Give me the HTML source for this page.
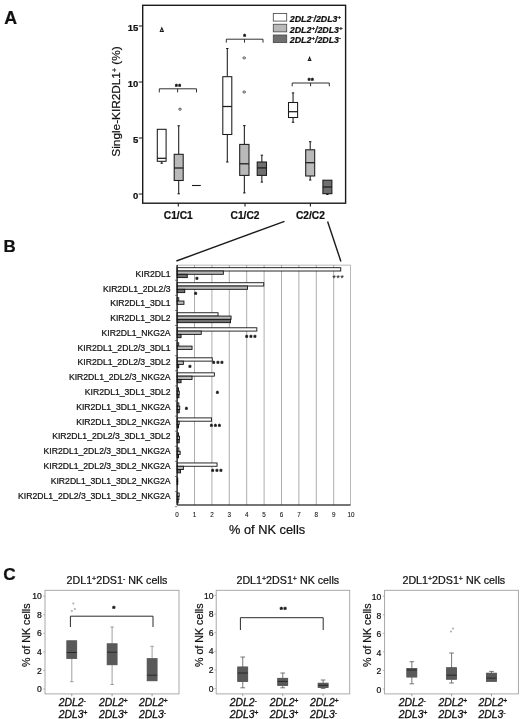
<!DOCTYPE html>
<html><head><meta charset="utf-8"><title>Figure</title>
<style>
html,body{margin:0;padding:0;background:#fff;}
svg{display:block;}
text{font-family:"Liberation Sans", sans-serif;fill:#111;stroke:#111;stroke-width:0.22px;}
.b{font-weight:bold;}
.i{font-style:italic;}
</style></head><body>
<svg width="520" height="719" viewBox="0 0 520 719">
<rect x="0" y="0" width="520" height="719" fill="#fff"/>

<text class="b" x="4.2" y="24.2" font-size="17.8">A</text>
<text class="b" x="3.5" y="251.6" font-size="16.9">B</text>
<text class="b" x="3.2" y="579.6" font-size="17.2">C</text>
<rect x="142.7" y="5.3" width="202.9" height="197.9" fill="none" stroke="#1a1a1a" stroke-width="1.4"/>
<line x1="138.8" y1="194.0" x2="142.7" y2="194.0" stroke="#1a1a1a" stroke-width="1"/>
<text class="b" x="138.4" y="199.3" font-size="9.5" text-anchor="end">0</text>
<line x1="138.8" y1="138.0" x2="142.7" y2="138.0" stroke="#1a1a1a" stroke-width="1"/>
<text class="b" x="138.4" y="143.3" font-size="9.5" text-anchor="end">5</text>
<line x1="138.8" y1="82.0" x2="142.7" y2="82.0" stroke="#1a1a1a" stroke-width="1"/>
<text class="b" x="138.4" y="87.3" font-size="9.5" text-anchor="end">10</text>
<line x1="138.8" y1="26.0" x2="142.7" y2="26.0" stroke="#1a1a1a" stroke-width="1"/>
<text class="b" x="138.4" y="31.3" font-size="9.5" text-anchor="end">15</text>
<line x1="178.3" y1="203.2" x2="178.3" y2="206.6" stroke="#1a1a1a" stroke-width="1.1"/>
<text class="b" x="178.3" y="219.1" font-size="10.2" text-anchor="middle">C1/C1</text>
<line x1="245" y1="203.2" x2="245" y2="206.6" stroke="#1a1a1a" stroke-width="1.1"/>
<text class="b" x="245" y="219.1" font-size="10.2" text-anchor="middle">C1/C2</text>
<line x1="310.4" y1="203.2" x2="310.4" y2="206.6" stroke="#1a1a1a" stroke-width="1.1"/>
<text class="b" x="310.4" y="219.1" font-size="10.2" text-anchor="middle">C2/C2</text>
<text transform="translate(120.2,101.5) rotate(-90)" font-size="11.8" text-anchor="middle">Single-KIR2DL1<tspan font-size="7" dy="-3.5">+</tspan><tspan dy="3.5"> (%)</tspan></text>
<line x1="161.7" y1="161.3" x2="161.7" y2="163.2" stroke="#1a1a1a" stroke-width="1.05"/>
<line x1="160.5" y1="163.2" x2="162.9" y2="163.2" stroke="#1a1a1a" stroke-width="1.05"/>
<rect x="157.3" y="129.3" width="8.8" height="32.0" fill="#fff" stroke="#1a1a1a" stroke-width="1.05"/>
<line x1="157.3" y1="158.3" x2="166.1" y2="158.3" stroke="#1a1a1a" stroke-width="1.25"/>
<line x1="178.7" y1="125.8" x2="178.7" y2="154.3" stroke="#1a1a1a" stroke-width="1.05"/>
<line x1="177.5" y1="125.8" x2="179.9" y2="125.8" stroke="#1a1a1a" stroke-width="1.05"/>
<line x1="178.7" y1="180.5" x2="178.7" y2="193.8" stroke="#1a1a1a" stroke-width="1.05"/>
<line x1="177.5" y1="193.8" x2="179.9" y2="193.8" stroke="#1a1a1a" stroke-width="1.05"/>
<rect x="174.2" y="154.3" width="9.0" height="26.2" fill="#b9b9b9" stroke="#1a1a1a" stroke-width="1.05"/>
<line x1="174.2" y1="168.0" x2="183.2" y2="168.0" stroke="#1a1a1a" stroke-width="1.25"/>
<line x1="192" y1="185.5" x2="200.8" y2="185.5" stroke="#1a1a1a" stroke-width="1.1"/>
<line x1="227.3" y1="48.5" x2="227.3" y2="76.7" stroke="#1a1a1a" stroke-width="1.05"/>
<line x1="226.1" y1="48.5" x2="228.5" y2="48.5" stroke="#1a1a1a" stroke-width="1.05"/>
<line x1="227.3" y1="134.5" x2="227.3" y2="162" stroke="#1a1a1a" stroke-width="1.05"/>
<line x1="226.1" y1="162" x2="228.5" y2="162" stroke="#1a1a1a" stroke-width="1.05"/>
<rect x="222.8" y="76.7" width="9.0" height="57.8" fill="#fff" stroke="#1a1a1a" stroke-width="1.05"/>
<line x1="222.8" y1="106.5" x2="231.8" y2="106.5" stroke="#1a1a1a" stroke-width="1.25"/>
<line x1="244.35" y1="125.6" x2="244.35" y2="144.4" stroke="#1a1a1a" stroke-width="1.05"/>
<line x1="243.15" y1="125.6" x2="245.55" y2="125.6" stroke="#1a1a1a" stroke-width="1.05"/>
<line x1="244.35" y1="175.4" x2="244.35" y2="192.9" stroke="#1a1a1a" stroke-width="1.05"/>
<line x1="243.15" y1="192.9" x2="245.55" y2="192.9" stroke="#1a1a1a" stroke-width="1.05"/>
<rect x="239.7" y="144.4" width="9.3" height="31.0" fill="#b9b9b9" stroke="#1a1a1a" stroke-width="1.05"/>
<line x1="239.7" y1="163.8" x2="249" y2="163.8" stroke="#1a1a1a" stroke-width="1.25"/>
<line x1="261.85" y1="155.2" x2="261.85" y2="162" stroke="#1a1a1a" stroke-width="1.05"/>
<line x1="260.65" y1="155.2" x2="263.05" y2="155.2" stroke="#1a1a1a" stroke-width="1.05"/>
<line x1="261.85" y1="175.4" x2="261.85" y2="182.1" stroke="#1a1a1a" stroke-width="1.05"/>
<line x1="260.65" y1="182.1" x2="263.05" y2="182.1" stroke="#1a1a1a" stroke-width="1.05"/>
<rect x="257.2" y="162" width="9.3" height="13.4" fill="#6f6f6f" stroke="#1a1a1a" stroke-width="1.05"/>
<line x1="257.2" y1="167.9" x2="266.5" y2="167.9" stroke="#1a1a1a" stroke-width="1.25"/>
<line x1="293.05" y1="92.9" x2="293.05" y2="102.5" stroke="#1a1a1a" stroke-width="1.05"/>
<line x1="291.85" y1="92.9" x2="294.25" y2="92.9" stroke="#1a1a1a" stroke-width="1.05"/>
<line x1="293.05" y1="117.5" x2="293.05" y2="122.3" stroke="#1a1a1a" stroke-width="1.05"/>
<line x1="291.85" y1="122.3" x2="294.25" y2="122.3" stroke="#1a1a1a" stroke-width="1.05"/>
<rect x="288.5" y="102.5" width="9.1" height="15.0" fill="#fff" stroke="#1a1a1a" stroke-width="1.05"/>
<line x1="288.5" y1="111.7" x2="297.6" y2="111.7" stroke="#1a1a1a" stroke-width="1.25"/>
<line x1="310.2" y1="141.7" x2="310.2" y2="149.8" stroke="#1a1a1a" stroke-width="1.05"/>
<line x1="309.0" y1="141.7" x2="311.4" y2="141.7" stroke="#1a1a1a" stroke-width="1.05"/>
<line x1="310.2" y1="176" x2="310.2" y2="180" stroke="#1a1a1a" stroke-width="1.05"/>
<line x1="309.0" y1="180" x2="311.4" y2="180" stroke="#1a1a1a" stroke-width="1.05"/>
<rect x="305.7" y="149.8" width="9.0" height="26.2" fill="#b9b9b9" stroke="#1a1a1a" stroke-width="1.05"/>
<line x1="305.7" y1="162.7" x2="314.7" y2="162.7" stroke="#1a1a1a" stroke-width="1.25"/>
<line x1="327.4" y1="193.7" x2="327.4" y2="194.4" stroke="#1a1a1a" stroke-width="1.05"/>
<line x1="326.2" y1="194.4" x2="328.6" y2="194.4" stroke="#1a1a1a" stroke-width="1.05"/>
<rect x="322.9" y="180.2" width="9.0" height="13.5" fill="#6f6f6f" stroke="#1a1a1a" stroke-width="1.05"/>
<line x1="322.9" y1="187" x2="331.9" y2="187" stroke="#1a1a1a" stroke-width="1.25"/>
<ellipse cx="180" cy="109.2" rx="1.3" ry="1.05" fill="#fff" stroke="#222" stroke-width="0.75"/>
<ellipse cx="244.2" cy="57.9" rx="1.3" ry="1.05" fill="#fff" stroke="#222" stroke-width="0.75"/>
<ellipse cx="244.2" cy="92" rx="1.3" ry="1.05" fill="#fff" stroke="#222" stroke-width="0.75"/>
<path d="M160.3,31.5 L163.3,31.5 L161.8,27.9 Z" fill="#fff" stroke="#1a1a1a" stroke-width="1.1"/>
<path d="M308.35,60.55 L310.85,60.55 L309.6,57.45 Z" fill="#fff" stroke="#1a1a1a" stroke-width="1.1"/>
<path d="M159.3,92.4 V88.8 H196.5 V92.4" fill="none" stroke="#1a1a1a" stroke-width="0.9"/>
<line x1="177.6" y1="88.8" x2="177.6" y2="92.4" stroke="#1a1a1a" stroke-width="0.9"/>
<path d="M226.3,42.6 V39.2 H263 V42.6" fill="none" stroke="#1a1a1a" stroke-width="0.9"/>
<line x1="244.5" y1="39.2" x2="244.5" y2="42.6" stroke="#1a1a1a" stroke-width="0.9"/>
<path d="M292.2,86.3 V83 H329.3 V86.3" fill="none" stroke="#1a1a1a" stroke-width="0.9"/>
<line x1="310.6" y1="83" x2="310.6" y2="86.3" stroke="#1a1a1a" stroke-width="0.9"/>
<text class="b" x="178.3" y="89.1" font-size="7" text-anchor="middle" fill="#111" style="stroke:#111;stroke-width:0.45px" letter-spacing="0.6">**</text>
<text class="b" x="244.9" y="38.9" font-size="7" text-anchor="middle" fill="#111" style="stroke:#111;stroke-width:0.45px" letter-spacing="0.6">*</text>
<text class="b" x="311.0" y="82.7" font-size="7" text-anchor="middle" fill="#111" style="stroke:#111;stroke-width:0.45px" letter-spacing="0.6">**</text>
<rect x="273.3" y="13.5" width="13.4" height="7.6" fill="#fff" stroke="#4a4a4a" stroke-width="0.85"/>
<text class="b i" x="289.8" y="21.8" font-size="8.85">2DL2<tspan font-size="6" dy="-3">-</tspan><tspan dy="3">/2DL3</tspan><tspan font-size="6" dy="-3">+</tspan></text>
<rect x="273.3" y="24.25" width="13.4" height="7.6" fill="#b9b9b9" stroke="#4a4a4a" stroke-width="0.85"/>
<text class="b i" x="289.8" y="32.55" font-size="8.85">2DL2<tspan font-size="6" dy="-3">+</tspan><tspan dy="3">/2DL3</tspan><tspan font-size="6" dy="-3">+</tspan></text>
<rect x="273.3" y="35.0" width="13.4" height="7.6" fill="#6f6f6f" stroke="#4a4a4a" stroke-width="0.85"/>
<text class="b i" x="289.8" y="43.3" font-size="8.85">2DL2<tspan font-size="6" dy="-3">+</tspan><tspan dy="3">/2DL3</tspan><tspan font-size="6" dy="-3">-</tspan></text>
<line x1="284.5" y1="221.3" x2="176.4" y2="261" stroke="#1a1a1a" stroke-width="1.4"/>
<line x1="327.6" y1="221.5" x2="340.9" y2="261.5" stroke="#1a1a1a" stroke-width="1.4"/>
<rect x="177.1" y="265.1" width="173.4" height="239.9" fill="none" stroke="#9a9a9a" stroke-width="0.7"/>
<line x1="194.5" y1="265.1" x2="194.5" y2="505.0" stroke="#8a8a8a" stroke-width="0.7"/>
<line x1="211.9" y1="265.1" x2="211.9" y2="505.0" stroke="#8a8a8a" stroke-width="0.7"/>
<line x1="229.3" y1="265.1" x2="229.3" y2="505.0" stroke="#8a8a8a" stroke-width="0.7"/>
<line x1="246.7" y1="265.1" x2="246.7" y2="505.0" stroke="#8a8a8a" stroke-width="0.7"/>
<line x1="264.1" y1="265.1" x2="264.1" y2="505.0" stroke="#8a8a8a" stroke-width="0.7"/>
<line x1="281.5" y1="265.1" x2="281.5" y2="505.0" stroke="#8a8a8a" stroke-width="0.7"/>
<line x1="298.9" y1="265.1" x2="298.9" y2="505.0" stroke="#8a8a8a" stroke-width="0.7"/>
<line x1="316.3" y1="265.1" x2="316.3" y2="505.0" stroke="#8a8a8a" stroke-width="0.7"/>
<line x1="333.7" y1="265.1" x2="333.7" y2="505.0" stroke="#8a8a8a" stroke-width="0.7"/>
<text x="170.6" y="276.80" font-size="8.65" text-anchor="end">KIR2DL1</text>
<line x1="174.9" y1="280.2" x2="177.1" y2="280.2" stroke="#333" stroke-width="0.6"/>
<rect x="177.1" y="267.70" width="163.65" height="3.3" fill="#fff" stroke="#111" stroke-width="0.9"/>
<rect x="177.1" y="271.00" width="46.25" height="3.3" fill="#b9b9b9" stroke="#111" stroke-width="0.9"/>
<rect x="177.1" y="274.30" width="10.15" height="3.3" fill="#6f6f6f" stroke="#111" stroke-width="0.9"/>
<text x="170.6" y="291.58" font-size="8.65" text-anchor="end">KIR2DL1_2DL2/3</text>
<line x1="174.9" y1="295.3" x2="177.1" y2="295.3" stroke="#333" stroke-width="0.6"/>
<rect x="177.1" y="282.72" width="86.65" height="3.3" fill="#fff" stroke="#111" stroke-width="0.9"/>
<rect x="177.1" y="286.02" width="70.35" height="3.3" fill="#b9b9b9" stroke="#111" stroke-width="0.9"/>
<rect x="177.1" y="289.32" width="7.65" height="3.3" fill="#6f6f6f" stroke="#111" stroke-width="0.9"/>
<text x="170.6" y="306.36" font-size="8.65" text-anchor="end">KIR2DL1_3DL1</text>
<line x1="174.9" y1="310.4" x2="177.1" y2="310.4" stroke="#333" stroke-width="0.6"/>
<rect x="177.1" y="297.74" width="1.65" height="3.3" fill="#fff" stroke="#111" stroke-width="0.9"/>
<rect x="177.1" y="301.04" width="6.85" height="3.3" fill="#b9b9b9" stroke="#111" stroke-width="0.9"/>
<text x="170.6" y="321.14" font-size="8.65" text-anchor="end">KIR2DL1_3DL2</text>
<line x1="174.9" y1="325.5" x2="177.1" y2="325.5" stroke="#333" stroke-width="0.6"/>
<rect x="177.1" y="312.76" width="40.95" height="3.3" fill="#fff" stroke="#111" stroke-width="0.9"/>
<rect x="177.1" y="316.06" width="53.95" height="3.3" fill="#b9b9b9" stroke="#111" stroke-width="0.9"/>
<rect x="177.1" y="319.36" width="53.45" height="3.3" fill="#6f6f6f" stroke="#111" stroke-width="0.9"/>
<text x="170.6" y="335.92" font-size="8.65" text-anchor="end">KIR2DL1_NKG2A</text>
<line x1="174.9" y1="340.6" x2="177.1" y2="340.6" stroke="#333" stroke-width="0.6"/>
<rect x="177.1" y="327.78" width="79.75" height="3.3" fill="#fff" stroke="#111" stroke-width="0.9"/>
<rect x="177.1" y="331.08" width="24.15" height="3.3" fill="#b9b9b9" stroke="#111" stroke-width="0.9"/>
<rect x="177.1" y="334.38" width="3.95" height="3.3" fill="#6f6f6f" stroke="#111" stroke-width="0.9"/>
<text x="170.6" y="350.70" font-size="8.65" text-anchor="end">KIR2DL1_2DL2/3_3DL1</text>
<line x1="174.9" y1="355.7" x2="177.1" y2="355.7" stroke="#333" stroke-width="0.6"/>
<rect x="177.1" y="342.80" width="1.65" height="3.3" fill="#fff" stroke="#111" stroke-width="0.9"/>
<rect x="177.1" y="346.10" width="14.95" height="3.3" fill="#b9b9b9" stroke="#111" stroke-width="0.9"/>
<text x="170.6" y="365.48" font-size="8.65" text-anchor="end">KIR2DL1_2DL2/3_3DL2</text>
<line x1="174.9" y1="370.8" x2="177.1" y2="370.8" stroke="#333" stroke-width="0.6"/>
<rect x="177.1" y="357.82" width="35.15" height="3.3" fill="#fff" stroke="#111" stroke-width="0.9"/>
<rect x="177.1" y="361.12" width="6.25" height="3.3" fill="#b9b9b9" stroke="#111" stroke-width="0.9"/>
<rect x="177.1" y="364.42" width="1.65" height="3.3" fill="#6f6f6f" stroke="#111" stroke-width="0.9"/>
<text x="170.6" y="380.26" font-size="8.65" text-anchor="end">KIR2DL1_2DL2/3_NKG2A</text>
<line x1="174.9" y1="385.9" x2="177.1" y2="385.9" stroke="#333" stroke-width="0.6"/>
<rect x="177.1" y="372.84" width="37.25" height="3.3" fill="#fff" stroke="#111" stroke-width="0.9"/>
<rect x="177.1" y="376.14" width="14.95" height="3.3" fill="#b9b9b9" stroke="#111" stroke-width="0.9"/>
<rect x="177.1" y="379.44" width="3.95" height="3.3" fill="#6f6f6f" stroke="#111" stroke-width="0.9"/>
<text x="170.6" y="395.04" font-size="8.65" text-anchor="end">KIR2DL1_3DL1_3DL2</text>
<line x1="174.9" y1="401.0" x2="177.1" y2="401.0" stroke="#333" stroke-width="0.6"/>
<rect x="177.1" y="387.86" width="1.45" height="3.3" fill="#fff" stroke="#111" stroke-width="0.9"/>
<rect x="177.1" y="391.16" width="2.15" height="3.3" fill="#b9b9b9" stroke="#111" stroke-width="0.9"/>
<rect x="177.1" y="394.46" width="1.85" height="3.3" fill="#6f6f6f" stroke="#111" stroke-width="0.9"/>
<text x="170.6" y="409.82" font-size="8.65" text-anchor="end">KIR2DL1_3DL1_NKG2A</text>
<line x1="174.9" y1="416.1" x2="177.1" y2="416.1" stroke="#333" stroke-width="0.6"/>
<rect x="177.1" y="402.88" width="1.75" height="3.3" fill="#fff" stroke="#111" stroke-width="0.9"/>
<rect x="177.1" y="406.18" width="2.65" height="3.3" fill="#b9b9b9" stroke="#111" stroke-width="0.9"/>
<rect x="177.1" y="409.48" width="2.15" height="3.3" fill="#6f6f6f" stroke="#111" stroke-width="0.9"/>
<text x="170.6" y="424.60" font-size="8.65" text-anchor="end">KIR2DL1_3DL2_NKG2A</text>
<line x1="174.9" y1="431.2" x2="177.1" y2="431.2" stroke="#333" stroke-width="0.6"/>
<rect x="177.1" y="417.90" width="34.35" height="3.3" fill="#fff" stroke="#111" stroke-width="0.9"/>
<rect x="177.1" y="421.20" width="2.05" height="3.3" fill="#b9b9b9" stroke="#111" stroke-width="0.9"/>
<rect x="177.1" y="424.50" width="1.45" height="3.3" fill="#6f6f6f" stroke="#111" stroke-width="0.9"/>
<text x="170.6" y="439.38" font-size="8.65" text-anchor="end">KIR2DL1_2DL2/3_3DL1_3DL2</text>
<line x1="174.9" y1="446.3" x2="177.1" y2="446.3" stroke="#333" stroke-width="0.6"/>
<rect x="177.1" y="432.92" width="1.45" height="3.3" fill="#fff" stroke="#111" stroke-width="0.9"/>
<rect x="177.1" y="436.22" width="2.45" height="3.3" fill="#b9b9b9" stroke="#111" stroke-width="0.9"/>
<rect x="177.1" y="439.52" width="2.15" height="3.3" fill="#6f6f6f" stroke="#111" stroke-width="0.9"/>
<text x="170.6" y="454.16" font-size="8.65" text-anchor="end">KIR2DL1_2DL2/3_3DL1_NKG2A</text>
<line x1="174.9" y1="461.4" x2="177.1" y2="461.4" stroke="#333" stroke-width="0.6"/>
<rect x="177.1" y="447.94" width="1.75" height="3.3" fill="#fff" stroke="#111" stroke-width="0.9"/>
<rect x="177.1" y="451.24" width="3.05" height="3.3" fill="#b9b9b9" stroke="#111" stroke-width="0.9"/>
<rect x="177.1" y="454.54" width="1.45" height="3.3" fill="#6f6f6f" stroke="#111" stroke-width="0.9"/>
<text x="170.6" y="468.94" font-size="8.65" text-anchor="end">KIR2DL1_2DL2/3_3DL2_NKG2A</text>
<line x1="174.9" y1="476.5" x2="177.1" y2="476.5" stroke="#333" stroke-width="0.6"/>
<rect x="177.1" y="462.96" width="39.95" height="3.3" fill="#fff" stroke="#111" stroke-width="0.9"/>
<rect x="177.1" y="466.26" width="6.25" height="3.3" fill="#b9b9b9" stroke="#111" stroke-width="0.9"/>
<rect x="177.1" y="469.56" width="3.45" height="3.3" fill="#6f6f6f" stroke="#111" stroke-width="0.9"/>
<text x="170.6" y="483.72" font-size="8.65" text-anchor="end">KIR2DL1_3DL1_3DL2_NKG2A</text>
<line x1="174.9" y1="491.6" x2="177.1" y2="491.6" stroke="#333" stroke-width="0.6"/>
<rect x="177.1" y="477.98" width="0.65" height="3.3" fill="#fff" stroke="#111" stroke-width="0.9"/>
<rect x="177.1" y="481.28" width="0.65" height="3.3" fill="#b9b9b9" stroke="#111" stroke-width="0.9"/>
<text x="170.6" y="498.50" font-size="8.65" text-anchor="end">KIR2DL1_2DL2/3_3DL1_3DL2_NKG2A</text>
<line x1="174.9" y1="506.7" x2="177.1" y2="506.7" stroke="#333" stroke-width="0.6"/>
<rect x="177.1" y="493.00" width="2.05" height="3.3" fill="#fff" stroke="#111" stroke-width="0.9"/>
<rect x="177.1" y="496.30" width="1.75" height="3.3" fill="#b9b9b9" stroke="#111" stroke-width="0.9"/>
<rect x="177.1" y="499.60" width="1.05" height="3.3" fill="#6f6f6f" stroke="#111" stroke-width="0.9"/>
<line x1="177.1" y1="265.1" x2="177.1" y2="505.0" stroke="#111" stroke-width="1.2"/>
<line x1="177.1" y1="505.0" x2="350.5" y2="505.0" stroke="#111" stroke-width="1.2"/>
<text x="177.1" y="516.7" font-size="6.3" text-anchor="middle" style="stroke-width:0.08px">0</text>
<text x="194.5" y="516.7" font-size="6.3" text-anchor="middle" style="stroke-width:0.08px">1</text>
<text x="211.9" y="516.7" font-size="6.3" text-anchor="middle" style="stroke-width:0.08px">2</text>
<text x="229.3" y="516.7" font-size="6.3" text-anchor="middle" style="stroke-width:0.08px">3</text>
<text x="246.7" y="516.7" font-size="6.3" text-anchor="middle" style="stroke-width:0.08px">4</text>
<text x="264.1" y="516.7" font-size="6.3" text-anchor="middle" style="stroke-width:0.08px">5</text>
<text x="281.5" y="516.7" font-size="6.3" text-anchor="middle" style="stroke-width:0.08px">6</text>
<text x="298.9" y="516.7" font-size="6.3" text-anchor="middle" style="stroke-width:0.08px">7</text>
<text x="316.3" y="516.7" font-size="6.3" text-anchor="middle" style="stroke-width:0.08px">8</text>
<text x="333.7" y="516.7" font-size="6.3" text-anchor="middle" style="stroke-width:0.08px">9</text>
<text x="351.1" y="516.7" font-size="6.3" text-anchor="middle" style="stroke-width:0.08px">10</text>
<text x="267.1" y="533.6" font-size="12.8" text-anchor="middle">% of NK cells</text>
<text x="338.2" y="280.6" font-size="9.5" text-anchor="middle" fill="#8e8e8e" style="stroke:none" letter-spacing="0.3">***</text>
<text class="b" x="197.65" y="281.8" font-size="7.2" text-anchor="middle" fill="#111" style="stroke:#111;stroke-width:0.45px" letter-spacing="1.3">*</text>
<text class="b" x="196.25" y="296.6" font-size="7.2" text-anchor="middle" fill="#111" style="stroke:#111;stroke-width:0.45px" letter-spacing="1.3">*</text>
<text class="b" x="251.45" y="339.6" font-size="7.2" text-anchor="middle" fill="#111" style="stroke:#111;stroke-width:0.45px" letter-spacing="1.3">***</text>
<text class="b" x="218.45" y="366.4" font-size="7.2" text-anchor="middle" fill="#111" style="stroke:#111;stroke-width:0.45px" letter-spacing="1.3">***</text>
<text class="b" x="190.45" y="370" font-size="7.2" text-anchor="middle" fill="#111" style="stroke:#111;stroke-width:0.45px" letter-spacing="1.3">*</text>
<text class="b" x="218.15" y="395.6" font-size="7.2" text-anchor="middle" fill="#111" style="stroke:#111;stroke-width:0.45px" letter-spacing="1.3">*</text>
<text class="b" x="186.95" y="412.4" font-size="7.2" text-anchor="middle" fill="#111" style="stroke:#111;stroke-width:0.45px" letter-spacing="1.3">*</text>
<text class="b" x="216.05" y="429.2" font-size="7.2" text-anchor="middle" fill="#111" style="stroke:#111;stroke-width:0.45px" letter-spacing="1.3">***</text>
<text class="b" x="217.45" y="474.2" font-size="7.2" text-anchor="middle" fill="#111" style="stroke:#111;stroke-width:0.45px" letter-spacing="1.3">***</text>
<rect x="45.0" y="590.3" width="134.0" height="103.6" fill="none" stroke="#a0a0a0" stroke-width="0.9"/>
<text x="117" y="583.9" font-size="10.7" text-anchor="middle">2DL1<tspan font-size="7" dy="-3.2">+</tspan><tspan dy="3.2">2DS1</tspan><tspan font-size="7" dy="-3.2">-</tspan><tspan dy="3.2"> NK cells</tspan></text>
<text transform="translate(29.5,635.3) rotate(-90)" font-size="10.7" text-anchor="middle">% of NK cells</text>
<line x1="43.2" y1="689.0" x2="45.0" y2="689.0" stroke="#999" stroke-width="0.7"/>
<text x="41.7" y="692.1" font-size="8.6" text-anchor="end">0</text>
<line x1="43.2" y1="670.44" x2="45.0" y2="670.44" stroke="#999" stroke-width="0.7"/>
<text x="41.7" y="673.54" font-size="8.6" text-anchor="end">2</text>
<line x1="43.2" y1="651.88" x2="45.0" y2="651.88" stroke="#999" stroke-width="0.7"/>
<text x="41.7" y="654.98" font-size="8.6" text-anchor="end">4</text>
<line x1="43.2" y1="633.32" x2="45.0" y2="633.32" stroke="#999" stroke-width="0.7"/>
<text x="41.7" y="636.42" font-size="8.6" text-anchor="end">6</text>
<line x1="43.2" y1="614.76" x2="45.0" y2="614.76" stroke="#999" stroke-width="0.7"/>
<text x="41.7" y="617.86" font-size="8.6" text-anchor="end">8</text>
<line x1="43.2" y1="596.2" x2="45.0" y2="596.2" stroke="#999" stroke-width="0.7"/>
<text x="41.7" y="599.3" font-size="8.6" text-anchor="end">10</text>
<line x1="71.8" y1="693.9" x2="71.8" y2="696.3" stroke="#888" stroke-width="0.8"/>
<line x1="71.8" y1="658.6" x2="71.8" y2="681.7" stroke="#8e8e8e" stroke-width="0.85"/>
<line x1="70.1" y1="681.7" x2="73.5" y2="681.7" stroke="#8e8e8e" stroke-width="0.85"/>
<rect x="66.85" y="640.8" width="9.9" height="17.8" fill="#595959" stroke="#8e8e8e" stroke-width="0.85"/>
<line x1="66.85" y1="652.5" x2="76.75" y2="652.5" stroke="#8e8e8e" stroke-width="1.05"/>
<rect x="66.85" y="640.8" width="9.9" height="17.8" fill="#595959" stroke="#595959" stroke-width="0.5"/>
<line x1="66.85" y1="652.5" x2="76.75" y2="652.5" stroke="#222" stroke-width="0.9"/>
<line x1="112.1" y1="693.9" x2="112.1" y2="696.3" stroke="#888" stroke-width="0.8"/>
<line x1="112.1" y1="627" x2="112.1" y2="643.8" stroke="#8e8e8e" stroke-width="0.85"/>
<line x1="110.4" y1="627" x2="113.8" y2="627" stroke="#8e8e8e" stroke-width="0.85"/>
<line x1="112.1" y1="664.8" x2="112.1" y2="684.5" stroke="#8e8e8e" stroke-width="0.85"/>
<line x1="110.4" y1="684.5" x2="113.8" y2="684.5" stroke="#8e8e8e" stroke-width="0.85"/>
<rect x="107.15" y="643.8" width="9.9" height="21.0" fill="#595959" stroke="#8e8e8e" stroke-width="0.85"/>
<line x1="107.15" y1="652.2" x2="117.05" y2="652.2" stroke="#8e8e8e" stroke-width="1.05"/>
<rect x="107.15" y="643.8" width="9.9" height="21.0" fill="#595959" stroke="#595959" stroke-width="0.5"/>
<line x1="107.15" y1="652.2" x2="117.05" y2="652.2" stroke="#222" stroke-width="0.9"/>
<line x1="152.1" y1="693.9" x2="152.1" y2="696.3" stroke="#888" stroke-width="0.8"/>
<line x1="152.1" y1="646.3" x2="152.1" y2="658.6" stroke="#8e8e8e" stroke-width="0.85"/>
<line x1="150.4" y1="646.3" x2="153.8" y2="646.3" stroke="#8e8e8e" stroke-width="0.85"/>
<rect x="147.15" y="658.6" width="9.9" height="22.2" fill="#595959" stroke="#8e8e8e" stroke-width="0.85"/>
<line x1="147.15" y1="675.2" x2="157.05" y2="675.2" stroke="#8e8e8e" stroke-width="1.05"/>
<rect x="147.15" y="658.6" width="9.9" height="22.2" fill="#595959" stroke="#595959" stroke-width="0.5"/>
<line x1="147.15" y1="675.2" x2="157.05" y2="675.2" stroke="#222" stroke-width="0.9"/>
<circle cx="73.4" cy="603.6" r="1.0" fill="#a8a8a8"/>
<circle cx="74.8" cy="609" r="1.0" fill="#a8a8a8"/>
<circle cx="71.9" cy="610.9" r="1.0" fill="#a8a8a8"/>
<path d="M70.4,627.0 V616.2 H153 V627.0" fill="none" stroke="#2a2a2a" stroke-width="1.0"/>
<text class="b" x="114.1" y="611.1" font-size="8" text-anchor="middle" fill="#111" style="stroke:#111;stroke-width:0.45px" letter-spacing="0.6">*</text>
<text class="i" x="58.7" y="706.1" font-size="10.4" text-anchor="start" style="stroke-width:0.3px">2DL2<tspan font-size="6.5" dy="-3">-</tspan></text>
<text class="i" x="58.7" y="717.9" font-size="10.4" text-anchor="start" style="stroke-width:0.3px">2DL3<tspan font-size="6.5" dy="-3">+</tspan></text>
<text class="i" x="99.0" y="706.1" font-size="10.4" text-anchor="start" style="stroke-width:0.3px">2DL2<tspan font-size="6.5" dy="-3">+</tspan></text>
<text class="i" x="99.0" y="717.9" font-size="10.4" text-anchor="start" style="stroke-width:0.3px">2DL3<tspan font-size="6.5" dy="-3">+</tspan></text>
<text class="i" x="139.0" y="706.1" font-size="10.4" text-anchor="start" style="stroke-width:0.3px">2DL2<tspan font-size="6.5" dy="-3">+</tspan></text>
<text class="i" x="139.0" y="717.9" font-size="10.4" text-anchor="start" style="stroke-width:0.3px">2DL3<tspan font-size="6.5" dy="-3">-</tspan></text>
<rect x="216.2" y="590.3" width="133.5" height="103.6" fill="none" stroke="#a0a0a0" stroke-width="0.9"/>
<text x="287.8" y="583.9" font-size="10.7" text-anchor="middle">2DL1<tspan font-size="7" dy="-3.2">+</tspan><tspan dy="3.2">2DS1</tspan><tspan font-size="7" dy="-3.2">+</tspan><tspan dy="3.2"> NK cells</tspan></text>
<text transform="translate(203.2,635.3) rotate(-90)" font-size="10.7" text-anchor="middle">% of NK cells</text>
<line x1="214.4" y1="688.6" x2="216.2" y2="688.6" stroke="#999" stroke-width="0.7"/>
<text x="213.5" y="691.7" font-size="8.6" text-anchor="end">0</text>
<line x1="214.4" y1="669.96" x2="216.2" y2="669.96" stroke="#999" stroke-width="0.7"/>
<text x="213.5" y="673.06" font-size="8.6" text-anchor="end">2</text>
<line x1="214.4" y1="651.32" x2="216.2" y2="651.32" stroke="#999" stroke-width="0.7"/>
<text x="213.5" y="654.42" font-size="8.6" text-anchor="end">4</text>
<line x1="214.4" y1="632.68" x2="216.2" y2="632.68" stroke="#999" stroke-width="0.7"/>
<text x="213.5" y="635.78" font-size="8.6" text-anchor="end">6</text>
<line x1="214.4" y1="614.04" x2="216.2" y2="614.04" stroke="#999" stroke-width="0.7"/>
<text x="213.5" y="617.14" font-size="8.6" text-anchor="end">8</text>
<line x1="214.4" y1="595.4" x2="216.2" y2="595.4" stroke="#999" stroke-width="0.7"/>
<text x="213.5" y="598.5" font-size="8.6" text-anchor="end">10</text>
<line x1="242.75" y1="693.9" x2="242.75" y2="696.3" stroke="#888" stroke-width="0.8"/>
<line x1="242.75" y1="657" x2="242.75" y2="667" stroke="#5e5e5e" stroke-width="0.85"/>
<line x1="240.45" y1="657" x2="245.05" y2="657" stroke="#5e5e5e" stroke-width="0.85"/>
<line x1="242.75" y1="681.4" x2="242.75" y2="687.8" stroke="#5e5e5e" stroke-width="0.85"/>
<line x1="240.45" y1="687.8" x2="245.05" y2="687.8" stroke="#5e5e5e" stroke-width="0.85"/>
<rect x="237.8" y="667" width="9.9" height="14.4" fill="#595959" stroke="#5e5e5e" stroke-width="0.85"/>
<line x1="237.8" y1="673" x2="247.7" y2="673" stroke="#5e5e5e" stroke-width="1.05"/>
<rect x="237.8" y="667" width="9.9" height="14.4" fill="#595959" stroke="#595959" stroke-width="0.5"/>
<line x1="237.8" y1="673" x2="247.7" y2="673" stroke="#222" stroke-width="0.9"/>
<line x1="282.75" y1="693.9" x2="282.75" y2="696.3" stroke="#888" stroke-width="0.8"/>
<line x1="282.75" y1="673" x2="282.75" y2="678.3" stroke="#5e5e5e" stroke-width="0.85"/>
<line x1="280.45" y1="673" x2="285.05" y2="673" stroke="#5e5e5e" stroke-width="0.85"/>
<line x1="282.75" y1="685.4" x2="282.75" y2="687.8" stroke="#5e5e5e" stroke-width="0.85"/>
<line x1="280.45" y1="687.8" x2="285.05" y2="687.8" stroke="#5e5e5e" stroke-width="0.85"/>
<rect x="277.8" y="678.3" width="9.9" height="7.1" fill="#595959" stroke="#5e5e5e" stroke-width="0.85"/>
<line x1="277.8" y1="681.4" x2="287.7" y2="681.4" stroke="#5e5e5e" stroke-width="1.05"/>
<rect x="277.8" y="678.3" width="9.9" height="7.1" fill="#595959" stroke="#595959" stroke-width="0.5"/>
<line x1="277.8" y1="681.4" x2="287.7" y2="681.4" stroke="#222" stroke-width="0.9"/>
<line x1="323.1" y1="693.9" x2="323.1" y2="696.3" stroke="#888" stroke-width="0.8"/>
<line x1="323.1" y1="680" x2="323.1" y2="683.2" stroke="#5e5e5e" stroke-width="0.85"/>
<line x1="320.8" y1="680" x2="325.4" y2="680" stroke="#5e5e5e" stroke-width="0.85"/>
<line x1="323.1" y1="687.5" x2="323.1" y2="688.4" stroke="#5e5e5e" stroke-width="0.85"/>
<line x1="320.8" y1="688.4" x2="325.4" y2="688.4" stroke="#5e5e5e" stroke-width="0.85"/>
<rect x="318.15" y="683.2" width="9.9" height="4.3" fill="#595959" stroke="#5e5e5e" stroke-width="0.85"/>
<line x1="318.15" y1="685.3" x2="328.05" y2="685.3" stroke="#5e5e5e" stroke-width="1.05"/>
<rect x="318.15" y="683.2" width="9.9" height="4.3" fill="#595959" stroke="#595959" stroke-width="0.5"/>
<line x1="318.15" y1="685.3" x2="328.05" y2="685.3" stroke="#222" stroke-width="0.9"/>
<path d="M240.4,630.0 V617.7 H323.2 V630.0" fill="none" stroke="#2a2a2a" stroke-width="1.0"/>
<text class="b" x="283.5" y="612.3" font-size="8" text-anchor="middle" fill="#111" style="stroke:#111;stroke-width:0.45px" letter-spacing="0.6">**</text>
<text class="i" x="229.65" y="706.1" font-size="10.4" text-anchor="start" style="stroke-width:0.3px">2DL2<tspan font-size="6.5" dy="-3">-</tspan></text>
<text class="i" x="229.65" y="717.9" font-size="10.4" text-anchor="start" style="stroke-width:0.3px">2DL3<tspan font-size="6.5" dy="-3">+</tspan></text>
<text class="i" x="269.65" y="706.1" font-size="10.4" text-anchor="start" style="stroke-width:0.3px">2DL2<tspan font-size="6.5" dy="-3">+</tspan></text>
<text class="i" x="269.65" y="717.9" font-size="10.4" text-anchor="start" style="stroke-width:0.3px">2DL3<tspan font-size="6.5" dy="-3">+</tspan></text>
<text class="i" x="310.0" y="706.1" font-size="10.4" text-anchor="start" style="stroke-width:0.3px">2DL2<tspan font-size="6.5" dy="-3">+</tspan></text>
<text class="i" x="310.0" y="717.9" font-size="10.4" text-anchor="start" style="stroke-width:0.3px">2DL3<tspan font-size="6.5" dy="-3">-</tspan></text>
<rect x="384.6" y="590.3" width="133.8" height="103.6" fill="none" stroke="#a0a0a0" stroke-width="0.9"/>
<text x="453.8" y="583.9" font-size="10.7" text-anchor="middle">2DL1<tspan font-size="7" dy="-3.2">+</tspan><tspan dy="3.2">2DS1</tspan><tspan font-size="7" dy="-3.2">+</tspan><tspan dy="3.2"> NK cells</tspan></text>
<text transform="translate(370.9,635.3) rotate(-90)" font-size="10.7" text-anchor="middle">% of NK cells</text>
<line x1="382.8" y1="689.0" x2="384.6" y2="689.0" stroke="#999" stroke-width="0.7"/>
<text x="381.2" y="693.0" font-size="8.6" text-anchor="end">0</text>
<line x1="382.8" y1="670.44" x2="384.6" y2="670.44" stroke="#999" stroke-width="0.7"/>
<text x="381.2" y="674.44" font-size="8.6" text-anchor="end">2</text>
<line x1="382.8" y1="651.88" x2="384.6" y2="651.88" stroke="#999" stroke-width="0.7"/>
<text x="381.2" y="655.88" font-size="8.6" text-anchor="end">4</text>
<line x1="382.8" y1="633.32" x2="384.6" y2="633.32" stroke="#999" stroke-width="0.7"/>
<text x="381.2" y="637.32" font-size="8.6" text-anchor="end">6</text>
<line x1="382.8" y1="614.76" x2="384.6" y2="614.76" stroke="#999" stroke-width="0.7"/>
<text x="381.2" y="618.76" font-size="8.6" text-anchor="end">8</text>
<line x1="382.8" y1="596.2" x2="384.6" y2="596.2" stroke="#999" stroke-width="0.7"/>
<text x="381.2" y="600.2" font-size="8.6" text-anchor="end">10</text>
<line x1="411.85" y1="693.9" x2="411.85" y2="696.3" stroke="#888" stroke-width="0.8"/>
<line x1="411.85" y1="661.7" x2="411.85" y2="668.5" stroke="#5e5e5e" stroke-width="0.85"/>
<line x1="409.55" y1="661.7" x2="414.15" y2="661.7" stroke="#5e5e5e" stroke-width="0.85"/>
<line x1="411.85" y1="677" x2="411.85" y2="683.8" stroke="#5e5e5e" stroke-width="0.85"/>
<line x1="409.55" y1="683.8" x2="414.15" y2="683.8" stroke="#5e5e5e" stroke-width="0.85"/>
<rect x="406.9" y="668.5" width="9.9" height="8.5" fill="#595959" stroke="#5e5e5e" stroke-width="0.85"/>
<line x1="406.9" y1="670" x2="416.8" y2="670" stroke="#5e5e5e" stroke-width="1.05"/>
<rect x="406.9" y="668.5" width="9.9" height="8.5" fill="#595959" stroke="#595959" stroke-width="0.5"/>
<line x1="406.9" y1="670" x2="416.8" y2="670" stroke="#222" stroke-width="0.9"/>
<line x1="451.6" y1="693.9" x2="451.6" y2="696.3" stroke="#888" stroke-width="0.8"/>
<line x1="451.6" y1="653" x2="451.6" y2="667.8" stroke="#5e5e5e" stroke-width="0.85"/>
<line x1="449.3" y1="653" x2="453.9" y2="653" stroke="#5e5e5e" stroke-width="0.85"/>
<line x1="451.6" y1="679.2" x2="451.6" y2="683" stroke="#5e5e5e" stroke-width="0.85"/>
<line x1="449.3" y1="683" x2="453.9" y2="683" stroke="#5e5e5e" stroke-width="0.85"/>
<rect x="446.65" y="667.8" width="9.9" height="11.4" fill="#595959" stroke="#5e5e5e" stroke-width="0.85"/>
<line x1="446.65" y1="675.2" x2="456.55" y2="675.2" stroke="#5e5e5e" stroke-width="1.05"/>
<rect x="446.65" y="667.8" width="9.9" height="11.4" fill="#595959" stroke="#595959" stroke-width="0.5"/>
<line x1="446.65" y1="675.2" x2="456.55" y2="675.2" stroke="#222" stroke-width="0.9"/>
<line x1="491.5" y1="693.9" x2="491.5" y2="696.3" stroke="#888" stroke-width="0.8"/>
<line x1="491.5" y1="671.4" x2="491.5" y2="673.2" stroke="#5e5e5e" stroke-width="0.85"/>
<line x1="489.2" y1="671.4" x2="493.8" y2="671.4" stroke="#5e5e5e" stroke-width="0.85"/>
<rect x="486.55" y="673.2" width="9.9" height="8.1" fill="#595959" stroke="#5e5e5e" stroke-width="0.85"/>
<line x1="486.55" y1="678.1" x2="496.45" y2="678.1" stroke="#5e5e5e" stroke-width="1.05"/>
<rect x="486.55" y="673.2" width="9.9" height="8.1" fill="#595959" stroke="#595959" stroke-width="0.5"/>
<line x1="486.55" y1="678.1" x2="496.45" y2="678.1" stroke="#222" stroke-width="0.9"/>
<circle cx="453" cy="628.5" r="1.0" fill="#a8a8a8"/>
<circle cx="451" cy="631.5" r="1.0" fill="#a8a8a8"/>
<text class="i" x="398.75" y="706.1" font-size="10.4" text-anchor="start" style="stroke-width:0.3px">2DL2<tspan font-size="6.5" dy="-3">-</tspan></text>
<text class="i" x="398.75" y="717.9" font-size="10.4" text-anchor="start" style="stroke-width:0.3px">2DL3<tspan font-size="6.5" dy="-3">+</tspan></text>
<text class="i" x="438.5" y="706.1" font-size="10.4" text-anchor="start" style="stroke-width:0.3px">2DL2<tspan font-size="6.5" dy="-3">+</tspan></text>
<text class="i" x="438.5" y="717.9" font-size="10.4" text-anchor="start" style="stroke-width:0.3px">2DL3<tspan font-size="6.5" dy="-3">+</tspan></text>
<text class="i" x="478.4" y="706.1" font-size="10.4" text-anchor="start" style="stroke-width:0.3px">2DL2<tspan font-size="6.5" dy="-3">+</tspan></text>
<text class="i" x="478.4" y="717.9" font-size="10.4" text-anchor="start" style="stroke-width:0.3px">2DL3<tspan font-size="6.5" dy="-3">-</tspan></text>
</svg></body></html>
